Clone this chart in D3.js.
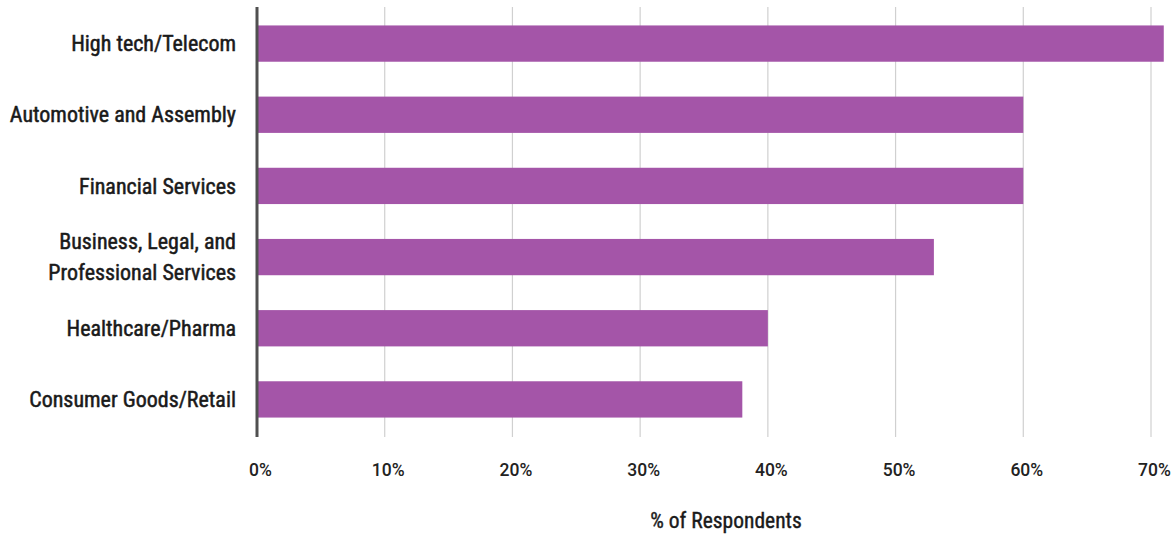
<!DOCTYPE html>
<html><head><meta charset="utf-8">
<script src="https://cdn.jsdelivr.net/npm/d3@7"></script>
<style>body{margin:0;background:#fff}</style>
</head><body>
<svg id="c" width="1173" height="535"></svg>
<script>
const categories = ["High tech/Telecom","Automotive and Assembly","Financial Services","Business, Legal, and|Professional Services","Healthcare/Pharma","Consumer Goods/Retail"];
const values = [0.71, 0.60, 0.60, 0.53, 0.40, 0.38];
const tickValues = [0,0.1,0.2,0.3,0.4,0.5,0.6,0.7];
const tickLabels = ["0%","10%","20%","30%","40%","50%","60%","70%"];

const svg = d3.select("#c");
const x = d3.scaleLinear().domain([0,0.7]).range([257,1151]);
const y = d3.scaleBand().domain(categories).range([8,435]).paddingInner(0.49).paddingOuter(0.245);
const narrow = "'Liberation Sans Narrow','Roboto Condensed','Arial Narrow',Roboto,sans-serif";

// gridlines
svg.append("g").selectAll("line").data(tickValues.slice(1)).join("line")
  .attr("x1",d=>x(d)).attr("x2",d=>x(d)).attr("y1",7).attr("y2",437)
  .attr("stroke","#d0d0d0").attr("stroke-width",1.2);

// bars
svg.append("g").selectAll("rect").data(categories).join("rect")
  .attr("x",x(0)).attr("y",d=>y(d)).attr("height",y.bandwidth())
  .attr("width",(d,i)=>x(values[i])-x(0)).attr("fill","#a455a8");

// axis line
svg.append("line").attr("x1",x(0)).attr("x2",x(0)).attr("y1",7).attr("y2",437)
  .attr("stroke","#505050").attr("stroke-width",3);

// x tick labels via axis
const xAxis = d3.axisBottom(x).tickValues(tickValues).tickFormat((d,i)=>tickLabels[i]).tickSize(0).tickPadding(0);
const gx = svg.append("g").attr("transform","translate(3,464)").call(xAxis);
gx.select(".domain").remove();
gx.selectAll("text").attr("font-family","Roboto, 'Liberation Sans', sans-serif").attr("font-size",17.5).attr("font-weight",500).attr("fill","#222");

// category labels
const gy = svg.append("g");
categories.forEach((c)=>{
  const lines = c.split("|");
  const cy = y(c)+y.bandwidth()/2;
  const t = gy.append("text").attr("x",236).attr("text-anchor","end")
    .attr("font-family",narrow).attr("font-size",22).attr("font-weight",400)
    .attr("fill","#1a1a1a").attr("stroke","#1a1a1a").attr("stroke-width",0.5);
  const lh = 31;
  lines.forEach((l,j)=>{
    t.append("tspan").attr("x",236)
      .attr("y",cy + (j-(lines.length-1)/2)*lh).attr("dy","0.35em").text(l);
  });
});

// axis title
svg.append("text").attr("x",726).attr("y",520).attr("text-anchor","middle").attr("dy","0.35em")
  .attr("font-family",narrow).attr("font-size",21.5).attr("font-weight",400)
  .attr("fill","#1a1a1a").attr("stroke","#1a1a1a").attr("stroke-width",0.4).text("% of Respondents");
</script>
</body></html>
